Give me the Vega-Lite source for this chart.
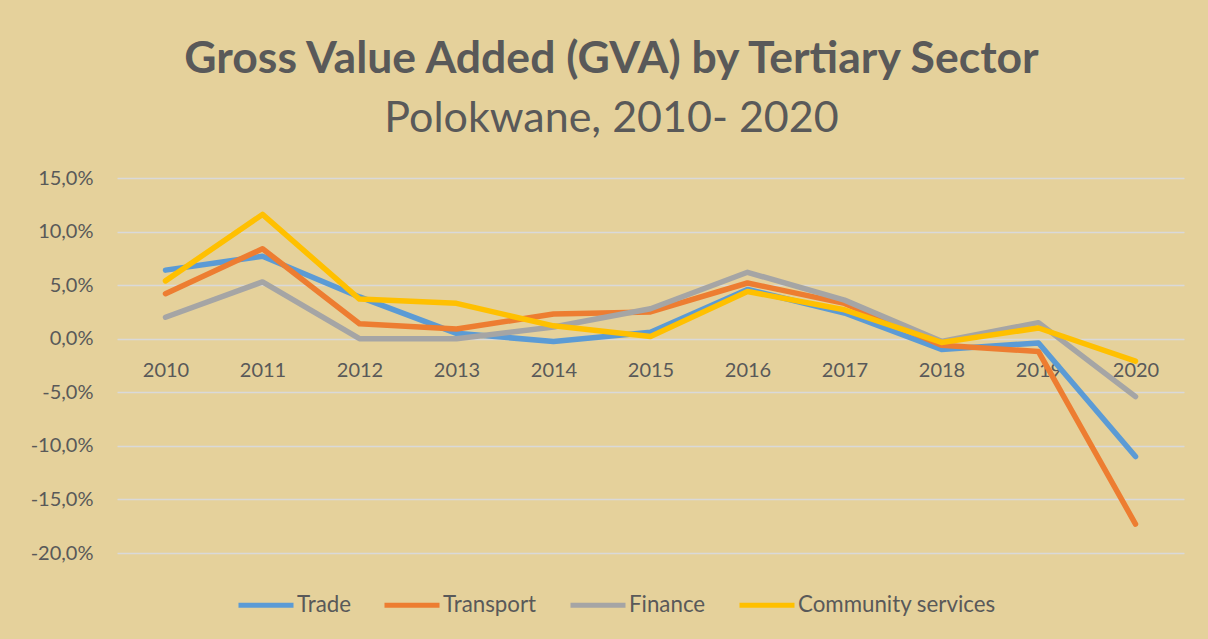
{
  "$schema": "https://vega.github.io/schema/vega-lite/v6.json",
  "width": 1067,
  "height": 375,
  "autosize": {"type": "none"},
  "padding": {"left": 117, "top": 178, "right": 24, "bottom": 86},
  "background": "#E5D19B",
  "config": {
    "locale": {"number": {"decimal": ",", "thousands": ".", "grouping": [3], "currency": ["", " €"], "minus": "-"}},
    "view": {"stroke": null},
    "font": "Lato"
  },
  "title": {
    "text": "Gross Value Added (GVA) by Tertiary Sector",
    "subtitle": "Polokwane, 2010- 2020",
    "font": "Lato",
    "fontSize": 44.5,
    "fontWeight": "bold",
    "color": "#595959",
    "subtitleFont": "Lato",
    "subtitleFontSize": 43,
    "subtitleFontWeight": "normal",
    "subtitleColor": "#595959",
    "subtitlePadding": 16,
    "anchor": "middle",
    "dx": -39,
    "offset": 26
  },
  "data": {
    "values": [
      {"year": "2010", "sector": "Trade", "value": 0.064},
      {"year": "2011", "sector": "Trade", "value": 0.077},
      {"year": "2012", "sector": "Trade", "value": 0.039},
      {"year": "2013", "sector": "Trade", "value": 0.005},
      {"year": "2014", "sector": "Trade", "value": -0.0025},
      {"year": "2015", "sector": "Trade", "value": 0.006},
      {"year": "2016", "sector": "Trade", "value": 0.046},
      {"year": "2017", "sector": "Trade", "value": 0.024},
      {"year": "2018", "sector": "Trade", "value": -0.010},
      {"year": "2019", "sector": "Trade", "value": -0.004},
      {"year": "2020", "sector": "Trade", "value": -0.110},
      {"year": "2010", "sector": "Transport", "value": 0.042},
      {"year": "2011", "sector": "Transport", "value": 0.084},
      {"year": "2012", "sector": "Transport", "value": 0.014},
      {"year": "2013", "sector": "Transport", "value": 0.009},
      {"year": "2014", "sector": "Transport", "value": 0.023},
      {"year": "2015", "sector": "Transport", "value": 0.025},
      {"year": "2016", "sector": "Transport", "value": 0.052},
      {"year": "2017", "sector": "Transport", "value": 0.033},
      {"year": "2018", "sector": "Transport", "value": -0.006},
      {"year": "2019", "sector": "Transport", "value": -0.012},
      {"year": "2020", "sector": "Transport", "value": -0.173},
      {"year": "2010", "sector": "Finance", "value": 0.020},
      {"year": "2011", "sector": "Finance", "value": 0.053},
      {"year": "2012", "sector": "Finance", "value": 0.000},
      {"year": "2013", "sector": "Finance", "value": 0.000},
      {"year": "2014", "sector": "Finance", "value": 0.011},
      {"year": "2015", "sector": "Finance", "value": 0.028},
      {"year": "2016", "sector": "Finance", "value": 0.062},
      {"year": "2017", "sector": "Finance", "value": 0.036},
      {"year": "2018", "sector": "Finance", "value": -0.0025},
      {"year": "2019", "sector": "Finance", "value": 0.015},
      {"year": "2020", "sector": "Finance", "value": -0.054},
      {"year": "2010", "sector": "Community services", "value": 0.054},
      {"year": "2011", "sector": "Community services", "value": 0.116},
      {"year": "2012", "sector": "Community services", "value": 0.037},
      {"year": "2013", "sector": "Community services", "value": 0.033},
      {"year": "2014", "sector": "Community services", "value": 0.012},
      {"year": "2015", "sector": "Community services", "value": 0.002},
      {"year": "2016", "sector": "Community services", "value": 0.044},
      {"year": "2017", "sector": "Community services", "value": 0.027},
      {"year": "2018", "sector": "Community services", "value": -0.0035},
      {"year": "2019", "sector": "Community services", "value": 0.010},
      {"year": "2020", "sector": "Community services", "value": -0.021}
    ]
  },
  "mark": {"type": "line", "strokeWidth": 5.5, "strokeCap": "round", "strokeJoin": "round"},
  "encoding": {
    "x": {
      "field": "year",
      "type": "ordinal",
      "scale": {"type": "point", "padding": 0.5},
      "axis": {
        "title": null,
        "offset": -214,
        "domain": false,
        "ticks": false,
        "labelAngle": 0,
        "labelFont": "Lato",
        "labelFontSize": 20,
        "labelColor": "#595959",
        "labelPadding": 21
      }
    },
    "y": {
      "field": "value",
      "type": "quantitative",
      "scale": {"domain": [-0.2, 0.15], "nice": false, "zero": false},
      "axis": {
        "title": null,
        "values": [-0.2, -0.15, -0.1, -0.05, 0, 0.05, 0.1, 0.15],
        "format": ".1%",
        "domain": false,
        "ticks": false,
        "labelPadding": 24,
        "labelFont": "Lato",
        "labelFontSize": 20,
        "labelColor": "#595959",
        "gridColor": "#D9D9D9",
        "gridWidth": 1.5,
        "gridOpacity": 1
      }
    },
    "color": {
      "field": "sector",
      "type": "nominal",
      "sort": ["Trade", "Transport", "Finance", "Community services"],
      "scale": {
        "domain": ["Trade", "Transport", "Finance", "Community services"],
        "range": ["#5B9BD5", "#ED7D31", "#A5A5A5", "#FFC000"]
      },
      "legend": {
        "title": null,
        "orient": "none",
        "direction": "horizontal",
        "legendX": 119,
        "legendY": 397,
        "symbolType": "stroke",
        "symbolSize": 3025,
        "symbolStrokeWidth": 5,
        "labelOffset": 1,
        "columnPadding": 23,
        "labelLimit": 0,
        "labelFont": "Lato",
        "labelFontSize": 22.3,
        "labelColor": "#595959"
      }
    },
    "order": {"field": "year"}
  }
}
